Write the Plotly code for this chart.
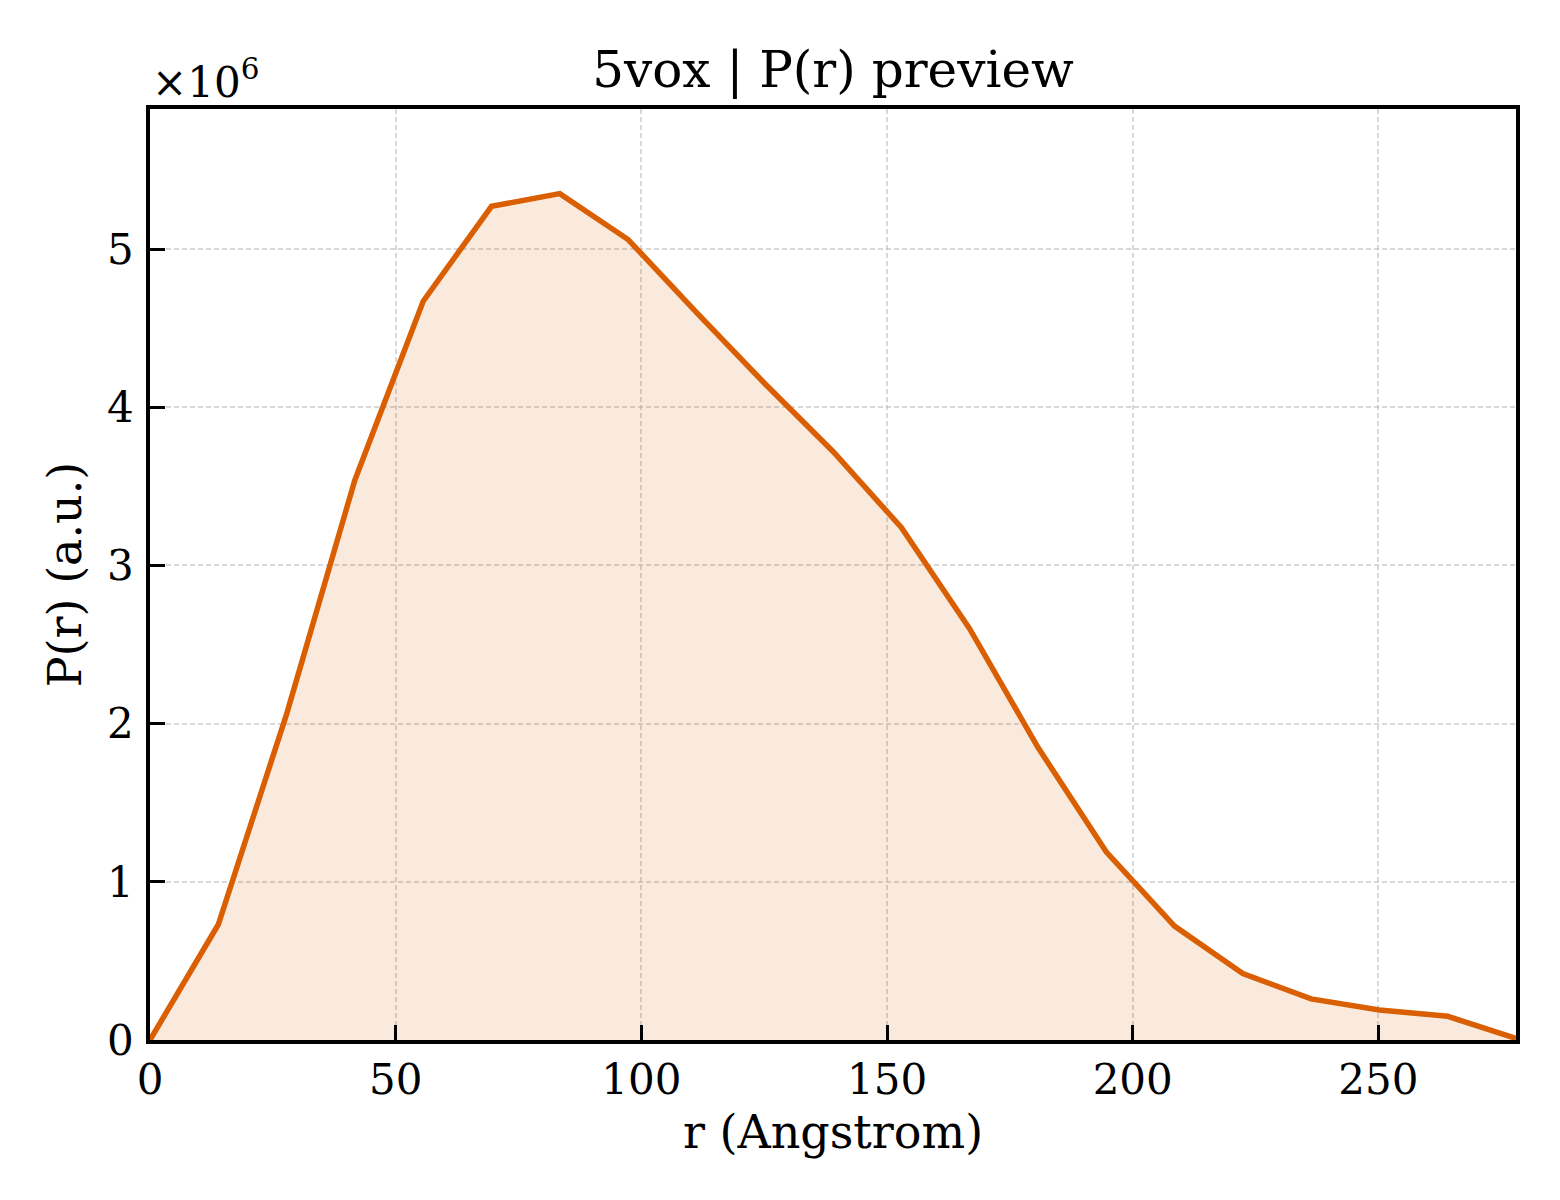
import plotly.graph_objects as go

# P(r) preview for 5vox
r_angstrom = [0.0, 13.9, 27.8, 41.7, 55.6, 69.5, 83.4, 97.3, 111.2, 125.1, 139.0,
              152.9, 166.8, 180.7, 194.6, 208.5, 222.4, 236.3, 250.2, 264.1, 278.0]
p_r = [0.0, 0.73e6, 2.06e6, 3.54e6, 4.67e6, 5.27e6, 5.35e6, 5.06e6, 4.60e6, 4.15e6, 3.72e6,
       3.24e6, 2.60e6, 1.85e6, 1.19e6, 0.72e6, 0.42e6, 0.26e6, 0.19e6, 0.15e6, 0.01e6]

x_ticks = [0, 50, 100, 150, 200, 250]
y_ticks = [0, 1e6, 2e6, 3e6, 4e6, 5e6]
y_tick_labels = ['0', '1', '2', '3', '4', '5']

FONT = 'DejaVu Serif'
ORANGE = '#d95f02'

fig = go.Figure()
fig.add_trace(go.Scatter(
    x=r_angstrom, y=p_r,
    mode='lines',
    line=dict(color=ORANGE, width=5.5),
    fill='tozeroy',
    fillcolor='rgba(217,95,2,0.13)',
    showlegend=False,
))

axis_common = dict(
    showline=True, linecolor='black', linewidth=3.5, mirror=True,
    ticks='inside', ticklen=15, tickwidth=3, tickcolor='black',
    showgrid=True, gridcolor='rgba(190,190,190,0.6)', griddash='5px,3px', gridwidth=1.5,
    zeroline=False,
    tickfont=dict(family=FONT, size=42, color='black'),
)

fig.update_xaxes(
    range=[0, 278], tickvals=x_ticks,
    title=dict(text='r (Angstrom)', font=dict(family=FONT, size=46, color='black'), standoff=14),
    ticklabelstandoff=0,
    **axis_common,
)
fig.update_yaxes(
    range=[0, 5.885e6], tickvals=y_ticks, ticktext=y_tick_labels,
    title=dict(text='P(r) (a.u.)', font=dict(family=FONT, size=46, color='black'), standoff=12),
    ticklabelstandoff=4,
    **axis_common,
)

fig.update_layout(
    width=1546, height=1186,
    paper_bgcolor='white', plot_bgcolor='white',
    margin=dict(l=142, r=38, t=101, b=154),
    title=dict(text='5vox | P(r) preview', x=0.5, xanchor='center', xref='paper',
               y=1 - 61 / 1186, yanchor='middle',
               font=dict(family=FONT, size=50, color='black')),
    annotations=[dict(
        text='×10<sup>6</sup>', xref='paper', yref='paper',
        x=0, y=1, xanchor='left', yanchor='bottom', yshift=0, xshift=0,
        showarrow=False, font=dict(family=FONT, size=42, color='black'),
    )],
)

fig.write_html('out.html')
